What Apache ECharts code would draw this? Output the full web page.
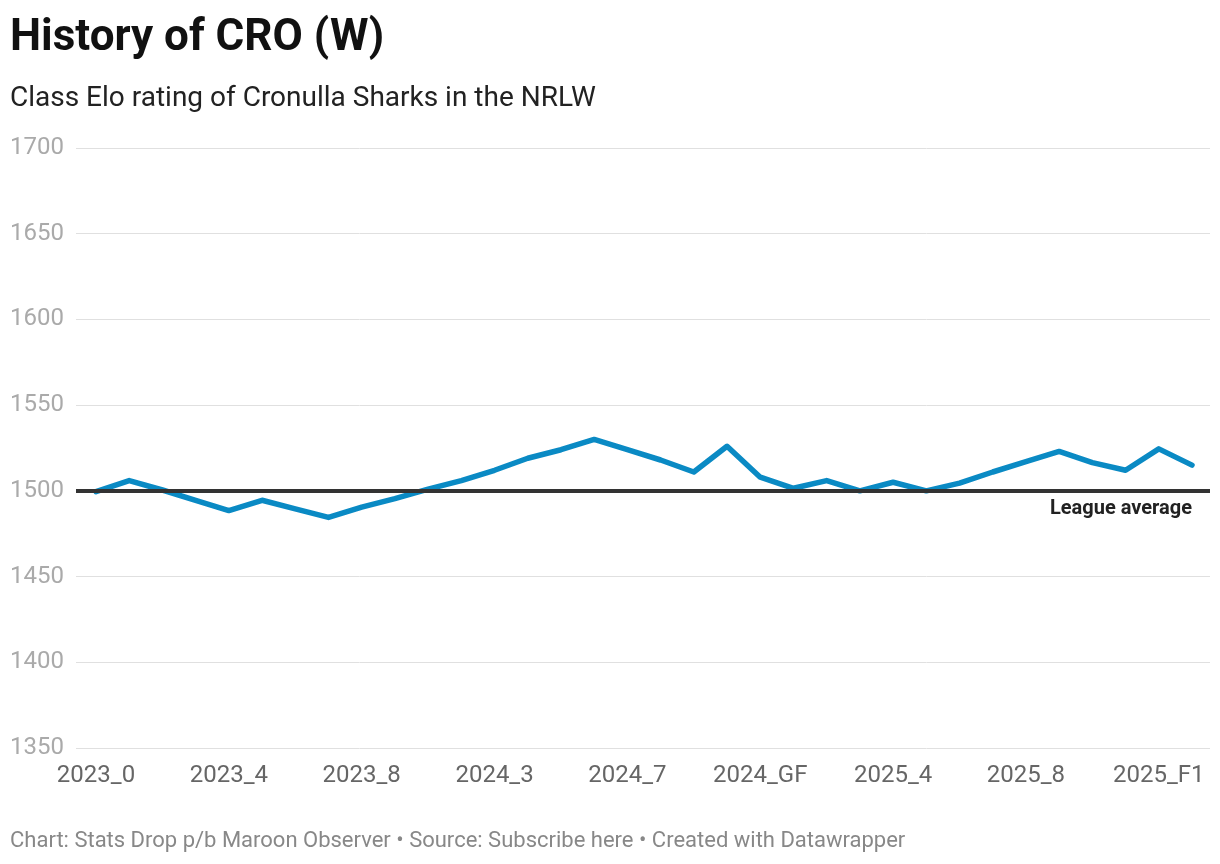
<!DOCTYPE html>
<html><head><meta charset="utf-8">
<script src="https://cdn.jsdelivr.net/npm/echarts@6/dist/echarts.min.js"></script>
<style>html,body{margin:0;padding:0;background:#fff}#c{width:1220px;height:864px}</style>
</head><body><div id="c"></div>
<script>
const categories = ['2023_0','2023_1','2023_2','2023_3','2023_4','2023_5','2023_6','2023_7','2023_8','2023_9',
  '2024_1','2024_2','2024_3','2024_4','2024_5','2024_6','2024_7','2024_8','2024_9','2024_SF','2024_GF',
  '2025_1','2025_2','2025_3','2025_4','2025_5','2025_6','2025_7','2025_8','2025_9','2025_10','2025_11','2025_F1','2025_SF'];
const elo = [1499.5,1506,1500.5,1494.5,1488.5,1494.5,1489.5,1484.5,1490.5,1495.5,
  1501,1506,1512,1519,1524,1530,1524,1518,1511,1526,1508,
  1501.5,1506,1500,1505,1500,1504.5,1511,1517,1523,1516.5,1512,1524.5,1515];
const leagueAverage = 1500;
const yTicks = {min:1350, max:1700, step:50};

const chart = echarts.init(document.getElementById('c'));
const font = 'Roboto';
chart.setOption({
  animation:false,
  textStyle:{fontFamily:font},
  title:[
    {text:'History of CRO (W)', left:10, top:17, padding:0, textStyle:{fontSize:44, fontWeight:'bold', color:'#111', fontFamily:font}},
    {text:'Class Elo rating of Cronulla Sharks in the NRLW', left:10, top:85, padding:0, textStyle:{fontSize:28, fontWeight:'normal', color:'#222', fontFamily:font}},
    {text:'Chart: Stats Drop p/b Maroon Observer • Source: Subscribe here • Created with Datawrapper', left:10, top:830, padding:0, textStyle:{fontSize:22, fontWeight:'normal', color:'#888', fontFamily:font}}
  ],
  grid:[
    {left:76, right:10, top:148, height:600},
    {left:96, right:28, top:148, height:600}
  ],
  xAxis:[
    {type:'value', gridIndex:0, min:0, max:1, show:false},
    {type:'category', gridIndex:1, data:categories, boundaryGap:false,
     axisLine:{show:false}, axisTick:{show:false},
     axisLabel:{interval:3, fontSize:24, color:'#666', margin:16, fontFamily:font}}
  ],
  yAxis:[
    {type:'value', gridIndex:0, min:yTicks.min, max:yTicks.max, interval:yTicks.step,
     axisLine:{show:false}, axisTick:{show:false},
     splitLine:{lineStyle:{color:'#e0e0e0', width:1}},
     axisLabel:{fontSize:24, color:'#aaa', align:'left', margin:66, fontFamily:font, formatter:v=>String(v)}},
    {type:'value', gridIndex:1, min:yTicks.min, max:yTicks.max, interval:yTicks.step, show:false, splitLine:{show:false}}
  ],
  series:[
    {type:'line', xAxisIndex:0, yAxisIndex:0, data:[], z:2,
     markLine:{silent:true, symbol:'none', animation:false,
       lineStyle:{color:'#333', width:4, type:'solid'},
       label:{show:true, position:'insideEndBottom', formatter:'League average', fontSize:20, fontWeight:'bold', color:'#222', distance:[18,8], fontFamily:font},
       data:[{yAxis:leagueAverage}]}},
    {type:'line', xAxisIndex:1, yAxisIndex:1, data:elo, z:3, showSymbol:false, symbol:'none',
     lineStyle:{color:'#0a8ac4', width:5.5, join:'round', cap:'round'}}
  ]
});
</script></body></html>
